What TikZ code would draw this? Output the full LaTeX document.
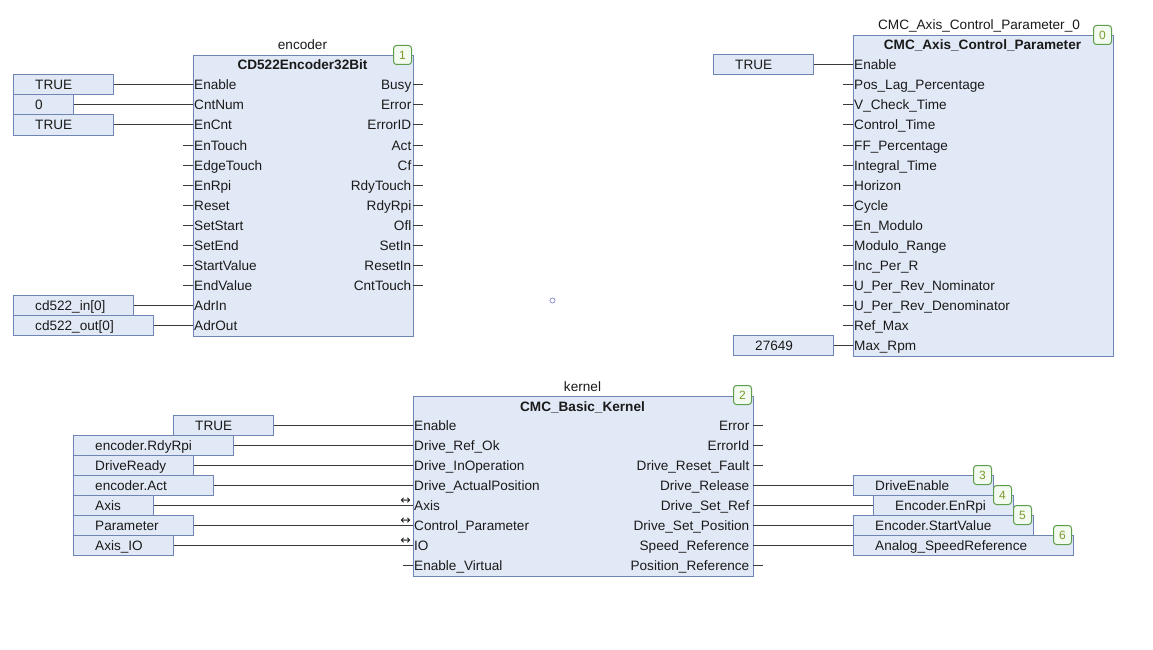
\documentclass[tikz,border=0pt]{standalone}
\usepackage{fontspec}
\setmainfont{Liberation Sans}
\newfontfamily\djv{DejaVu Sans}
\definecolor{bfill}{HTML}{E2E9F6}
\definecolor{bdraw}{HTML}{6F86B5}
\definecolor{wirec}{HTML}{3A3A3A}
\definecolor{gdraw}{HTML}{5C9E4C}
\definecolor{gfill}{HTML}{F3FAEF}
\definecolor{gtext}{HTML}{7A9A30}
\definecolor{txtc}{HTML}{1A1A1A}
\definecolor{dotc}{HTML}{8A8AD0}
\newcommand\varbox[5]{%
  \node[vbox, minimum width=#3pt] (#1) at (#2,#4) {};
  \node[txt, anchor=base west] (#1t) at (#2+22,#4+5) {#5};}
\begin{document}
\begin{tikzpicture}[x=1pt,y=-1pt,
  blk/.style={draw=bdraw, fill=bfill, line width=1pt, inner sep=0pt, anchor=north west},
  vbox/.style={draw=bdraw, fill=bfill, line width=1pt, inner sep=0pt, minimum height=20pt, anchor=west},
  txt/.style={inner sep=0pt, text=txtc, font=\fontsize{13.6}{16}\selectfont},
  ttl/.style={inner sep=0pt, text=txtc, font=\fontsize{13.6}{16}\selectfont\bfseries, anchor=base},
  badge/.style={draw=gdraw, fill=gfill, text=gtext, rounded corners=3pt, line width=1pt, minimum width=18pt, minimum height=19pt, inner sep=0pt, font=\fontsize{12}{12}\selectfont},
  wire/.style={draw=wirec, line width=1pt},
  bidir/.style={inner sep=0pt, text=txtc, font=\djv\fontsize{12.5}{12}\selectfont},
]
\useasboundingbox (0,0) rectangle (1153,650);
\fill[white] (0,0) rectangle (1153,650);

% ---------------- encoder block ----------------
\node[blk, minimum width=220pt, minimum height=280pt] (enc) at (192.5,55.5) {};
\node[txt, anchor=base] (encInst) at (302.5,50) {encoder};
\node[ttl] (encTitle) at (302.5,70) {CD522Encoder32Bit};
\foreach \lab [count=\i from 0] in {Enable,CntNum,EnCnt,EnTouch,EdgeTouch,EnRpi,Reset,SetStart,SetEnd,StartValue,EndValue,AdrIn,AdrOut}{
  \node[txt, anchor=base west] (encIn\i) at (194,85+20*\i+5) {\lab};
  \coordinate (encP\i) at (192.5,85+20*\i);
}
\foreach \lab [count=\i from 0] in {Busy,Error,ErrorID,Act,Cf,RdyTouch,RdyRpi,Ofl,SetIn,ResetIn,CntTouch}{
  \node[txt, anchor=base east] (encOut\i) at (411.5,85+20*\i+5) {\lab};
  \coordinate (encQ\i) at (412.5,85+20*\i);
  \draw[wire] (encQ\i) -- ++(10,0);
}
\foreach \i in {3,...,10}{ \draw[wire] (encP\i) -- ++(-10,0); }
\varbox{ev1}{13}{100}{85}{TRUE}
\varbox{ev2}{13}{60}{105}{0}
\varbox{ev3}{13}{100}{125}{TRUE}
\varbox{ev4}{13}{120}{305}{cd522\_in[0]}
\varbox{ev5}{13}{140}{325}{cd522\_out[0]}
\draw[wire] (ev1.east) -- (encP0);
\draw[wire] (ev2.east) -- (encP1);
\draw[wire] (ev3.east) -- (encP2);
\draw[wire] (ev4.east) -- (encP11);
\draw[wire] (ev5.east) -- (encP12);
\node[badge] (b1) at (402.5,55) {1};

% ---------------- axis control parameter block ----------------
\node[blk, minimum width=260pt, minimum height=320pt] (ax) at (852.5,35.5) {};
\node[txt, anchor=base] (axInst) at (979,30) {CMC\_Axis\_Control\_Parameter\_0};
\node[ttl] (axTitle) at (982.5,50) {CMC\_Axis\_Control\_Parameter};
\foreach \lab [count=\i from 0] in {Enable,Pos\_Lag\_Percentage,V\_Check\_Time,Control\_Time,FF\_Percentage,Integral\_Time,Horizon,Cycle,En\_Modulo,Modulo\_Range,Inc\_Per\_R,U\_Per\_Rev\_Nominator,U\_Per\_Rev\_Denominator,Ref\_Max,Max\_Rpm}{
  \node[txt, anchor=base west] (axIn\i) at (854,65+20*\i+5) {\lab};
  \coordinate (axP\i) at (852.5,65+20*\i);
}
\foreach \i in {1,...,13}{ \draw[wire] (axP\i) -- ++(-10,0); }
\varbox{av1}{713}{100}{65}{TRUE}
\varbox{av2}{733}{100}{345}{27649}
\draw[wire] (av1.east) -- (axP0);
\draw[wire] (av2.east) -- (axP14);
\node[badge] (b0) at (1102.5,35) {0};

% ---------------- kernel block ----------------
\node[blk, minimum width=340pt, minimum height=180pt] (ker) at (412.5,395.5) {};
\node[txt, anchor=base] (kerInst) at (582.5,391) {kernel};
\node[ttl] (kerTitle) at (582.5,411) {CMC\_Basic\_Kernel};
\foreach \lab [count=\i from 0] in {Enable,Drive\_Ref\_Ok,Drive\_InOperation,Drive\_ActualPosition,Axis,Control\_Parameter,IO,Enable\_Virtual}{
  \node[txt, anchor=base west] (kerIn\i) at (414,425+20*\i+5) {\lab};
  \coordinate (kerP\i) at (412.5,425+20*\i);
}
\foreach \lab [count=\i from 0] in {Error,ErrorId,Drive\_Reset\_Fault,Drive\_Release,Drive\_Set\_Ref,Drive\_Set\_Position,Speed\_Reference,Position\_Reference}{
  \node[txt, anchor=base east] (kerOut\i) at (749.5,425+20*\i+5) {\lab};
  \coordinate (kerQ\i) at (752.5,425+20*\i);
}
\foreach \i in {0,1,2,7}{ \draw[wire] (kerQ\i) -- ++(10,0); }
\draw[wire] (kerP7) -- ++(-10,0);
\varbox{kv1}{173}{100}{425}{TRUE}
\varbox{kv2}{73}{160}{445}{encoder.RdyRpi}
\varbox{kv3}{73}{120}{465}{DriveReady}
\varbox{kv4}{73}{140}{485}{encoder.Act}
\varbox{kv5}{73}{80}{505}{Axis}
\varbox{kv6}{73}{120}{525}{Parameter}
\varbox{kv7}{73}{100}{545}{Axis\_IO}
\foreach \i [count=\j from 0] in {1,...,7}{ \draw[wire] (kv\i.east) -- (kerP\j); }
\node[bidir] (bd1) at (405.5,501) {↔};
\node[bidir] (bd2) at (405.5,521) {↔};
\node[bidir] (bd3) at (405.5,541) {↔};
\node[badge] (b2) at (742.5,395) {2};

% ---------------- kernel outputs ----------------
\varbox{ob1}{853}{140}{485}{DriveEnable}
\varbox{ob2}{873}{140}{505}{Encoder.EnRpi}
\varbox{ob3}{853}{180}{525}{Encoder.StartValue}
\varbox{ob4}{853}{220}{545}{Analog\_SpeedReference}
\draw[wire] (kerQ3) -- (ob1.west);
\draw[wire] (kerQ4) -- (ob2.west);
\draw[wire] (kerQ5) -- (ob3.west);
\draw[wire] (kerQ6) -- (ob4.west);
\node[badge] (b3) at (982.5,475) {3};
\node[badge] (b4) at (1002.5,495) {4};
\node[badge] (b5) at (1022.5,515) {5};
\node[badge] (b6) at (1062.5,535) {6};

% small marker
\node[circle, draw=dotc, line width=0.7pt, minimum size=5pt, inner sep=0pt] (dot) at (552.5,300.5) {};
\end{tikzpicture}
\end{document}
